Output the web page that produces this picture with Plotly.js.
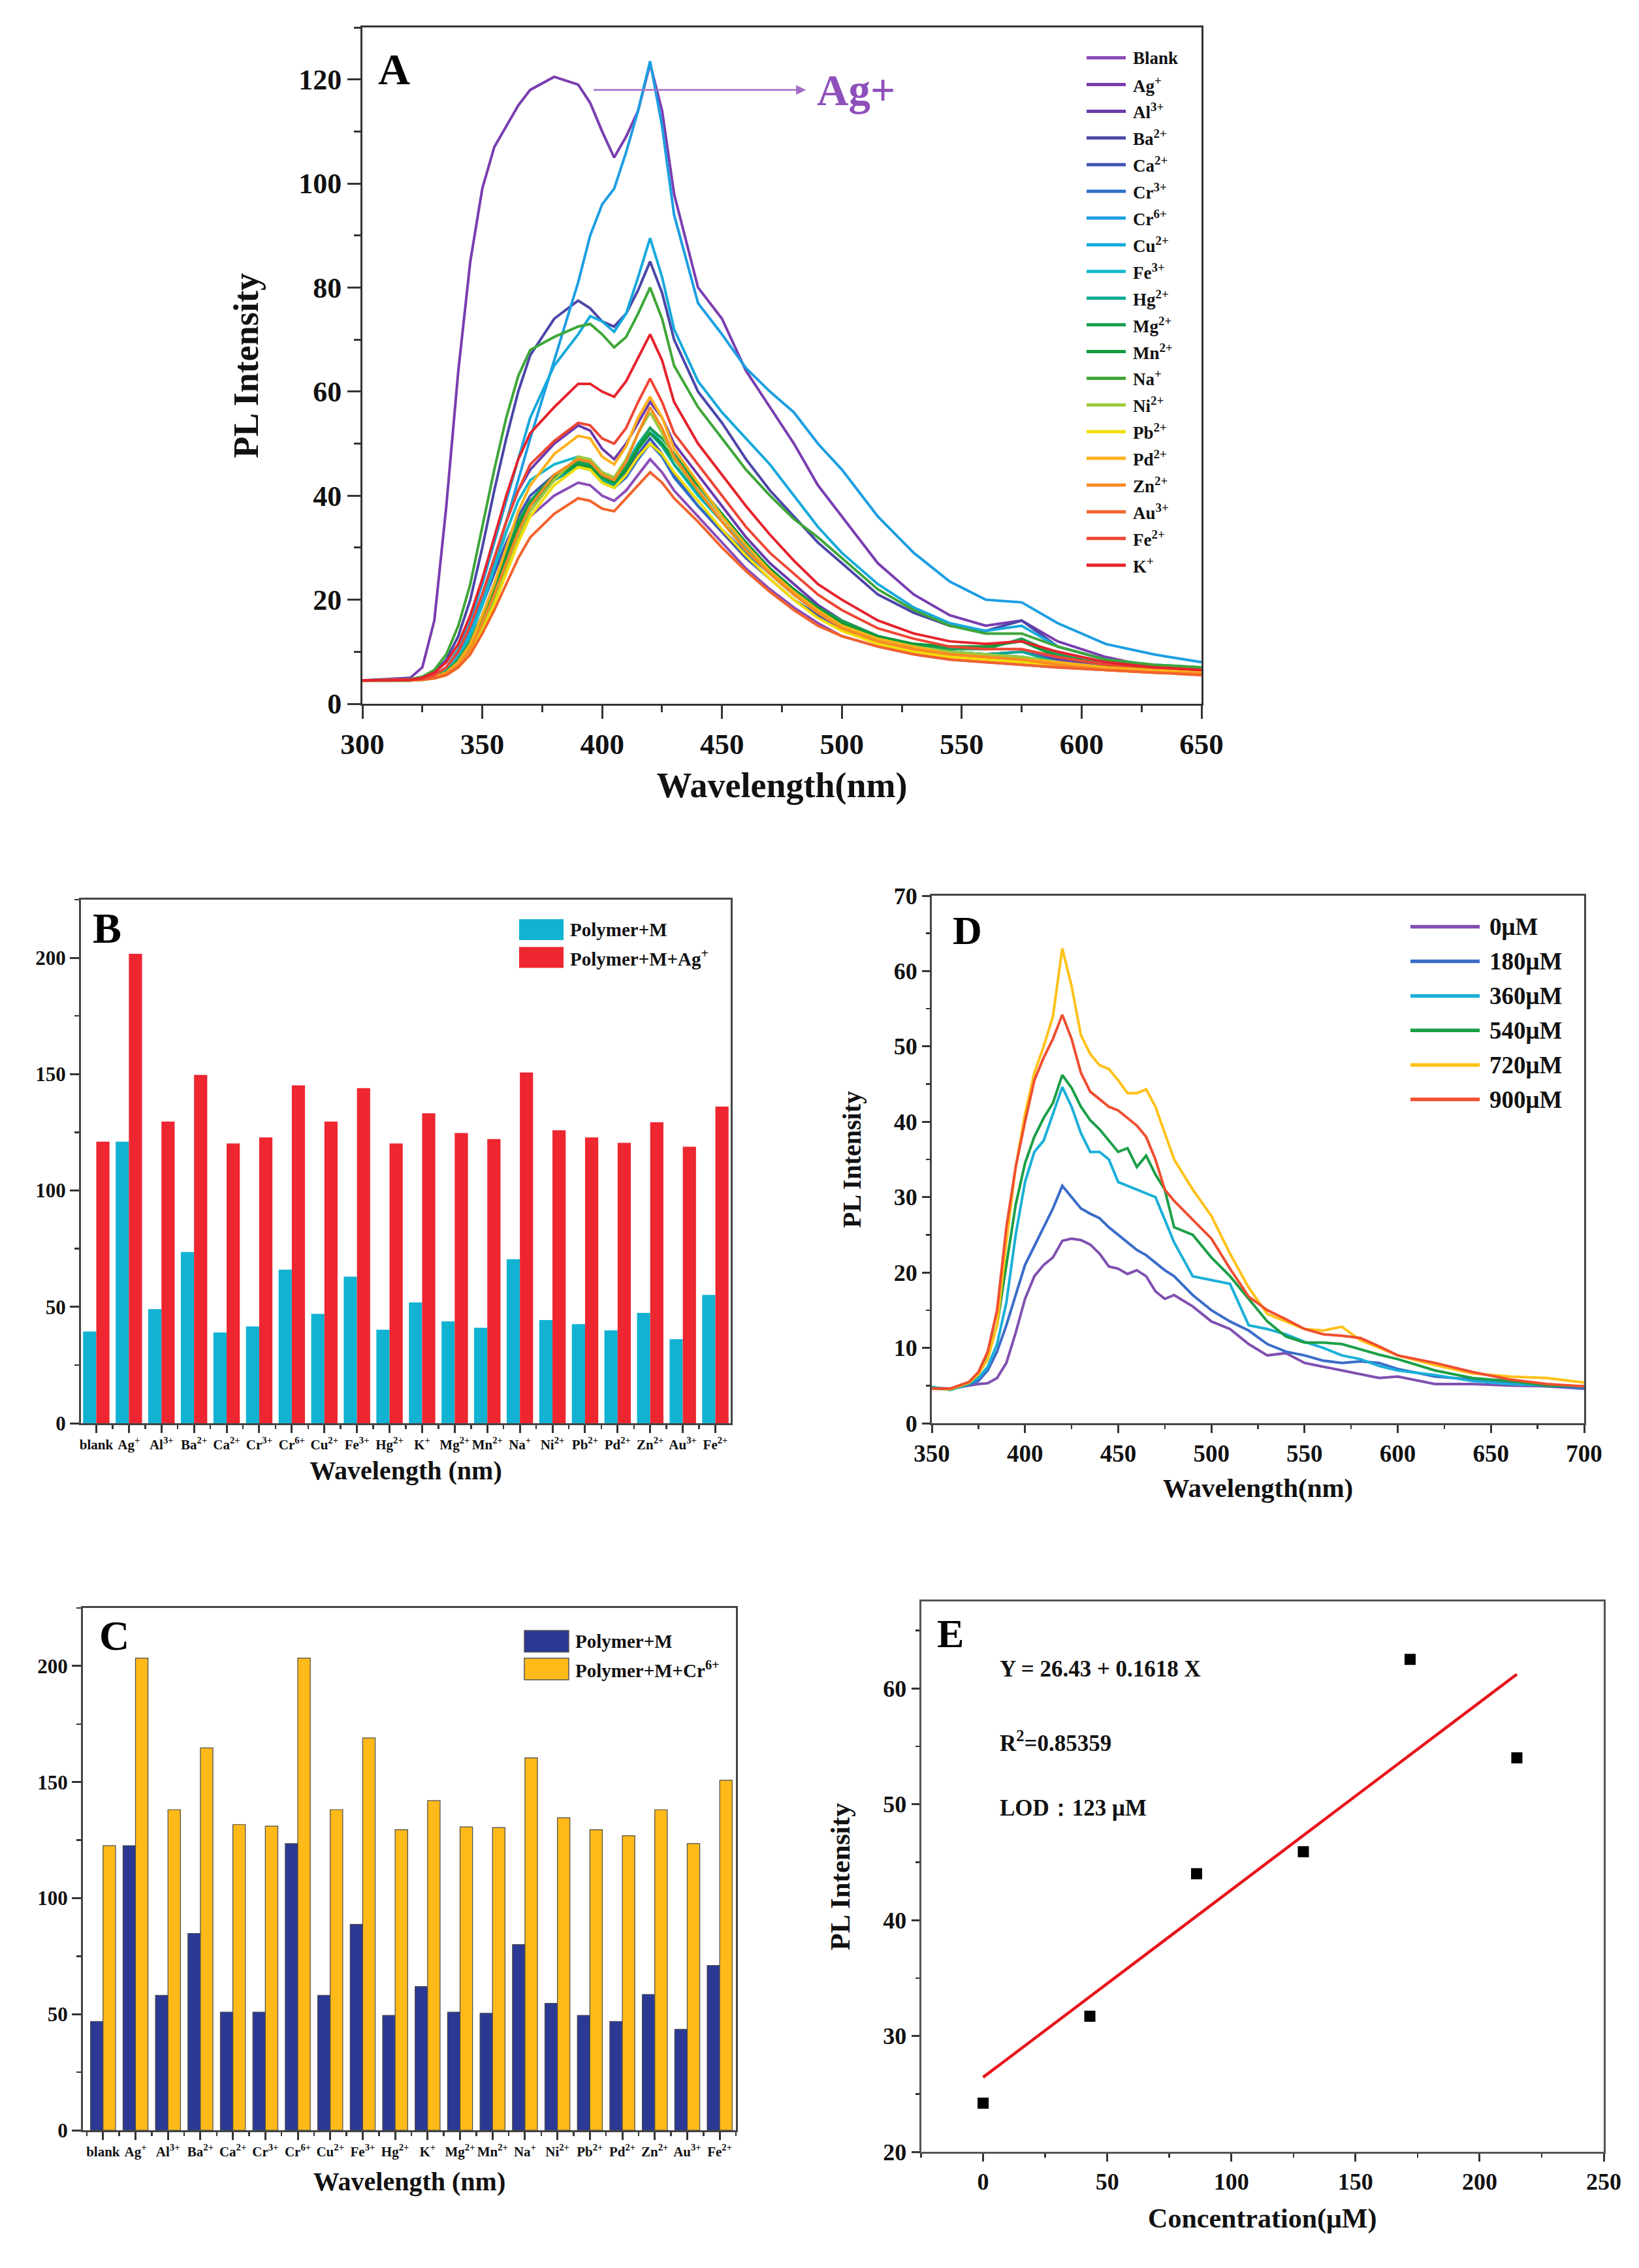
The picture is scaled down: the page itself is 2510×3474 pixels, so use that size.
<!DOCTYPE html>
<html><head><meta charset="utf-8">
<script src="https://cdn.plot.ly/plotly-3.0.1.min.js"></script>
<style>html,body{margin:0;padding:0;background:#fff}#chart{width:2510px;height:3474px}</style>
</head><body><div id="chart"></div>
<script>
// ---------------- Panel A : PL spectra with different metal ions ----------------
const wavelengthA = [300,320,325,330,335,340,345,350,355,360,365,370,380,390,395,400,405,410,415,420,425,430,440,450,460,470,480,490,500,515,530,545,560,575,590,610,630,650];
const a_blank = [4.5,4.6,4.8,5.2,6,8,11,16,21,27,32,36,40,42.5,42,40,39,41,44,47,44.5,41,36,31,26,22,18.5,15.5,13,11,9.5,8.5,8,7.5,7,6.5,6,5.8];
const a_ag    = [4.5,5,7,16,38,64,85,99,107,111,115,118,120.5,119,115.5,110,105,109,114,123,114,98,80,74,64,57,50,42,36,27,21,17,15,16,12,9,7,6];
const a_al    = [4.5,4.6,4.8,5.5,7,10,15,21,28,35,41,45,50,53.5,52.5,49,47,50,54,58,55,50,44,38,32,27,23,19,16,13,11,10,9.5,10,8.5,7,6.5,6];
const a_ba    = [4.5,4.7,5,6,8.5,13,20,30,41,51,60,67,74,77.5,76,73.5,72.5,75,79.5,85,79,70,60,54,47,41,36,31,27,21,17.5,15,14,16,11,8.5,7,6.5];
const a_ca    = [4.5,4.6,4.8,5.3,6.5,9,13,19,25,31,36,40,44,46,45.5,43,42,44.5,48,51,48,44,38,33,28,24,20,17,14.5,12,10.5,9.5,9,8.5,7.5,7,6.5,6];
const a_cr3   = [4.5,4.6,4.8,5.2,6.2,8.5,12,17,23,29,34,38,43,45.5,45,42.5,41.5,43.5,47,50,47.5,43.5,38,33.5,29,25,21,17.5,15,12.5,11,10,9.5,9,8,7,6.5,6];
const a_cr6   = [4.5,4.5,4.7,5.2,6.5,9.5,14,20,27,35,43,51,66,81,90,96,99,106,114,123.5,111,94,77,71,64.5,60,56,50,45,36,29,23.5,20,19.5,15.5,11.5,9.5,8];
const a_cu    = [4.5,4.5,4.7,5.3,7,10.5,16,23,31,39,47,55,65,71,74.5,73.5,71.5,75,82,89.5,82,72,62,56,51,46,40,34,29,23,18.5,15.5,14,15,11,8.5,7.5,7];
const a_fe3   = [4.5,4.5,4.7,5.2,6.5,9,13,19,26,33,39,43,46,47.5,47,44.5,43.5,46,50,53,50,46,40,35,30,25.5,21.5,18,15.5,13,11,10,9.5,9,8,7,6.5,6];
const a_hg    = [4.5,4.5,4.6,5,6,8,11,16,22,28,34,38,43,45.5,45,43,42,45,49,52,49.5,46,40.5,35,29.5,25,21,17.5,15,12.5,11,10,9.5,10,8,7,6.5,6];
const a_mg    = [4.5,4.5,4.7,5.2,6.2,8.5,12,17,23,29,35,39,44,46.5,46,44,43,45.5,49.5,53,51,48,42,36,30.5,26,22,18.5,16,13,11.5,10.5,10.5,12.5,9.5,7.5,7,6.5];
const a_mn    = [4.5,4.5,4.7,5.1,6,8,11.5,16.5,22.5,28.5,34,38.5,43.5,46,45.5,43.5,42.5,45,49,52,50,47,42,36.5,31,26,22,18.5,15.5,13,11.5,11,11,12,9,7.5,7,6.5];
const a_na    = [4.5,4.7,5.2,6.5,9.5,15,23,34,45,55,63,68,70.5,72.5,73,71,68.5,70.5,75,80,74,65,57,51,45,40,35.5,32,28,22,18,15,13.5,13.5,11,8.5,7.5,7];
const a_ni    = [4.5,4.5,4.6,4.9,5.6,7,10,14.5,20,26,32,37,43,47.5,47,44.5,43.5,47,52,56,52,47,41,35,29.5,25,21,17.5,15,12.5,11,10,9.5,9,8,7,6.5,6];
const a_pb    = [4.5,4.5,4.6,4.9,5.5,7,9.5,14,19,25,31,36,42,45.5,45,42.5,41.5,44,47.5,50,48,44.5,39,33.5,28.5,24,20,16.5,14,11.5,10,9,8.5,8,7.5,6.5,6,5.8];
const a_pd    = [4.5,4.5,4.7,5.1,6,8,11.5,17,23,30,37,42,48,51.5,51,47.5,46,49.5,55,59,55,49,42.5,36,30.5,25.5,21.5,18,15,12.5,11,9.5,9,8.5,8,7,6.5,6];
const a_zn    = [4.5,4.5,4.7,5,5.8,7.5,10.5,15.5,21,27,33,38,44,47,46.5,44,43,46.5,52,57,53,47.5,41,35,29.5,25,21,17.5,14.5,12,10.5,9.5,9,8.5,7.5,6.5,6,5.8];
const a_au    = [4.5,4.5,4.6,4.9,5.5,7,9.5,13.5,18,23,28,32,36.5,39.5,39,37.5,37,39.5,42,44.5,42.5,39.5,35,30,25.5,21.5,18,15,13,11,9.5,8.5,8,7.5,7,6.5,6,5.5];
const a_fe2   = [4.5,4.6,4.8,5.5,7,10,15,21,28,35,41,46,50.5,54,53.5,51,50,53,58,62.5,58,52,46,40,34,29,25,21,18,14.5,12.5,11,10.5,10.5,9,7.5,7,6.5];
const a_k     = [4.5,4.6,5,6,8,11.5,17,24,32,40,47,52,57,61.5,61.5,60,59,62,66.5,71,66,58,50,44,38,32.5,27.5,23,20,16,13.5,12,11.5,12,10,8,7,6.5];
const namesA  = ['Blank','Ag<sup>+</sup>','Al<sup>3+</sup>','Ba<sup>2+</sup>','Ca<sup>2+</sup>','Cr<sup>3+</sup>','Cr<sup>6+</sup>','Cu<sup>2+</sup>','Fe<sup>3+</sup>','Hg<sup>2+</sup>','Mg<sup>2+</sup>','Mn<sup>2+</sup>','Na<sup>+</sup>','Ni<sup>2+</sup>','Pb<sup>2+</sup>','Pd<sup>2+</sup>','Zn<sup>2+</sup>','Au<sup>3+</sup>','Fe<sup>2+</sup>','K<sup>+</sup>'];
const colorsA = ['#8B4DB8','#7A3DB0','#6A3AAE','#4B46A8','#3F55B5','#2F6FC9','#1C9EE2','#16A9DC','#10B8CC','#0BAA92','#1BA052','#0E9A3C','#3EA638','#A0C83C','#F2DE00','#FFB01A','#F98B22','#F3632C','#EE4634','#E6232D'];
const seriesA = [a_blank,a_ag,a_al,a_ba,a_ca,a_cr3,a_cr6,a_cu,a_fe3,a_hg,a_mg,a_mn,a_na,a_ni,a_pb,a_pd,a_zn,a_au,a_fe2,a_k];
const agArrow = {from: 396, to: 485, level: 118, labelX: 506};

// ---------------- Panels B and C : bar charts ----------------
const ionLabels = ['blank','Ag<sup>+</sup>','Al<sup>3+</sup>','Ba<sup>2+</sup>','Ca<sup>2+</sup>','Cr<sup>3+</sup>','Cr<sup>6+</sup>','Cu<sup>2+</sup>','Fe<sup>3+</sup>','Hg<sup>2+</sup>','K<sup>+</sup>','Mg<sup>2+</sup>','Mn<sup>2+</sup>','Na<sup>+</sup>','Ni<sup>2+</sup>','Pb<sup>2+</sup>','Pd<sup>2+</sup>','Zn<sup>2+</sup>','Au<sup>3+</sup>','Fe<sup>2+</sup>'];
const b_polymerM   = [39.4,121,49,73.6,39,41.6,66,47,63,40.2,51.9,43.8,41,70.5,44.3,42.6,39.9,47.4,36.1,55.1];
const b_polymerMAg = [121,201.7,129.6,149.7,120.2,122.8,145.2,129.6,144,120.2,133.2,124.7,122.1,150.7,125.9,122.8,120.5,129.3,118.8,136.1];
const c_polymerM   = [46.9,122.6,58.1,84.8,50.9,50.9,123.5,58.1,88.7,49.5,61.9,50.9,50.4,80,54.7,49.5,46.9,58.5,43.5,71];
const c_polymerMCr = [122.6,203.4,138.1,164.7,131.7,131,203.4,138.1,169,129.5,142,130.7,130.4,160.4,134.6,129.5,126.9,138.1,123.5,150.8];
const legendB = ['Polymer+M','Polymer+M+Ag<sup>+</sup>'];
const legendC = ['Polymer+M','Polymer+M+Cr<sup>6+</sup>'];
const colorsB = ['#12B2D2','#ED2630'];
const colorsC = ['#2B3995','#FFBA1A'];

// ---------------- Panel D : concentration series ----------------
const wavelengthD = [350,360,370,375,380,385,390,395,400,405,410,415,420,425,430,435,440,445,450,455,460,465,470,475,480,490,500,510,520,530,540,550,560,570,580,590,600,620,640,660,680,700];
const d_0   = [4.7,4.6,5.0,5.2,5.3,6,8,12,16.5,19.5,21,22,24.2,24.5,24.3,23.7,22.5,20.8,20.5,19.8,20.3,19.5,17.5,16.5,17,15.5,13.5,12.5,10.5,9,9.3,8,7.5,7,6.5,6,6.2,5.2,5.2,5,4.9,4.6];
const d_180 = [4.6,4.5,5.1,5.6,7,9.5,13,17,21,23.5,26,28.5,31.5,30,28.5,27.8,27.2,26,25,24,23,22.3,21.3,20.3,19.5,17,15,13.5,12.3,10.5,9.5,9,8.3,8,8.2,8,7.2,6.2,5.8,5.4,5,4.6];
const d_360 = [4.8,4.4,5.2,6,7.5,10.5,16,25,32,36,37.5,41,44.6,42,38.5,36,36,35,32,31.5,31,30.5,30,27,24,19.5,19,18.5,13,12.5,11.8,10.8,10,9,8.5,7.6,7,6.4,5.6,5.2,5,4.9];
const d_540 = [4.7,4.5,5.3,6.5,9,13,21,29,34.5,38,40.5,42.5,46.2,44.5,42,40.2,39,37.5,36,36.5,34,35.5,33,31,26,25,22,19.5,16.5,13.5,11.5,10.7,10.7,10.5,9.8,9.1,8.5,7,6,5.6,5,4.9];
const d_720 = [4.6,4.5,5.4,6.5,8.5,13,24,34,41,46.5,50,54,63,58,51.5,49,47.5,47,45.5,43.8,43.8,44.3,42,38.5,35,31,27.5,22.5,18,14.5,13.5,12.5,12.3,12.8,11,10,9,7.7,6.6,6.2,6,5.4];
const d_900 = [4.6,4.6,5.5,6.8,9.5,15,26,34,40,45.5,48.5,51,54.2,51,46.5,44,43,42,41.5,40.5,39.5,38,35,31,29.5,27,24.5,20.5,16.8,15,13.8,12.5,11.8,11.6,11.3,10.2,9,8,6.8,5.8,5.2,4.9];
const namesD  = ['0μM','180μM','360μM','540μM','720μM','900μM'];
const colorsD = ['#8050B0','#3A6CC8','#1AAFD8','#1A9F46','#FFC21A','#F04E30'];
const seriesD = [d_0,d_180,d_360,d_540,d_720,d_900];

// ---------------- Panel E : linear fit ----------------
const e_conc = [0,43,86,129,172,215];
const e_pl   = [24.2,31.7,44.0,45.9,62.5,54.0];
const e_fitIntercept = 26.43;
const e_fitSlope = 0.1618;
const e_fitX = [0,215];
const e_texts = ['Y = 26.43 + 0.1618 X','R<sup>2</sup>=0.85359','LOD：123 μM'];

// ---------------- layout helpers ----------------
const W = 2510, H = 3474;
const SERIF = '"Liberation Serif","Times New Roman",serif';
const fnt = (size, color) => ({family: SERIF, size: size, weight: 'bold', color: color || '#111'});
const px = v => v / W;
const py = v => 1 - v / H;
function ax(o){
  return Object.assign({showline:true, mirror:true, linecolor:'#333', linewidth:3,
    ticks:'outside', tickcolor:'#333', tickwidth:3, showgrid:false, zeroline:false, fixedrange:true}, o);
}

const traces = [];
seriesA.forEach((s,i) => traces.push({type:'scatter', mode:'lines', x:wavelengthA, y:s, name:namesA[i],
  line:{color:colorsA[i], width:4}, xaxis:'x', yaxis:'y'}));
const catIdx = ionLabels.map((_,i)=>i);
[[b_polymerM,0,-0.405],[b_polymerMAg,1,0]].forEach(([v,k,off]) => traces.push({type:'bar', x:catIdx, y:v, name:legendB[k],
  marker:{color:colorsB[k], line:{width:0}}, width:0.405, offset:off, xaxis:'x2', yaxis:'y2'}));
[[c_polymerM,0,-0.385],[c_polymerMCr,1,0]].forEach(([v,k,off]) => traces.push({type:'bar', x:catIdx, y:v, name:legendC[k],
  marker:{color:colorsC[k], line:{width:1.2, color:'#4a4a4a'}}, width:0.385, offset:off, xaxis:'x3', yaxis:'y3'}));
seriesD.forEach((s,i) => traces.push({type:'scatter', mode:'lines', x:wavelengthD, y:s, name:namesD[i],
  line:{color:colorsD[i], width:4}, xaxis:'x4', yaxis:'y4'}));
traces.push({type:'scatter', mode:'lines', x:e_fitX, y:e_fitX.map(v=>e_fitIntercept+e_fitSlope*v), name:'Linear fit',
  line:{color:'#E8141B', width:4.5}, xaxis:'x5', yaxis:'y5'});
traces.push({type:'scatter', mode:'markers', x:e_conc, y:e_pl, name:'PL Intensity',
  marker:{symbol:'square', size:17, color:'#000'}, xaxis:'x5', yaxis:'y5'});

const shapes = [], annotations = [];
// panel letters
[['A',603,106,68],['B',164,1421,66],['C',175,2505,64],['D',1481,1425,62],['E',1455,2502,62]].forEach(([t,x,y,s]) =>
  annotations.push({text:t, x:px(x), y:py(y), xref:'paper', yref:'paper', showarrow:false, xanchor:'center', yanchor:'middle', font:fnt(s,'#000')}));
// legend A
namesA.forEach((n,i) => {
  const y = 88.6 + 40.9*i;
  shapes.push({type:'line', xref:'paper', yref:'paper', x0:px(1664), x1:px(1724), y0:py(y), y1:py(y), line:{color:colorsA[i], width:5}});
  annotations.push({text:n, x:px(1733), y:py(y), xref:'paper', yref:'paper', showarrow:false, xanchor:'left', yanchor:'middle', font:fnt(27)});
});
// Ag+ arrow
annotations.push({text:'', x:agArrow.to, y:agArrow.level, ax:agArrow.from, ay:agArrow.level, xref:'x', yref:'y', axref:'x', ayref:'y',
  showarrow:true, arrowhead:2, arrowsize:1.2, arrowwidth:2.5, arrowcolor:'#A36BC9'});
annotations.push({text:'Ag+', x:agArrow.labelX, y:agArrow.level, xref:'x', yref:'y', showarrow:false, xanchor:'center', yanchor:'middle', font:fnt(67,'#8E4FBB')});
// legend B & C
function barLegend(names, colors, x0, x1, ys, h, tx, border){
  names.forEach((n,i) => {
    shapes.push({type:'rect', xref:'paper', yref:'paper', x0:px(x0), x1:px(x1), y0:py(ys[i]+h/2), y1:py(ys[i]-h/2),
      fillcolor:colors[i], line:{width:border?1.5:0, color:'#555'}});
    annotations.push({text:n, x:px(tx), y:py(ys[i]), xref:'paper', yref:'paper', showarrow:false, xanchor:'left', yanchor:'middle', font:fnt(29)});
  });
}
barLegend(legendB, colorsB, 795, 863, [1424, 1466.5], 32, 871, false);
barLegend(legendC, colorsC, 803, 871, [2514, 2556.5], 33, 879, true);
// legend D
namesD.forEach((n,i) => {
  const y = 1419.6 + 52.9*i;
  shapes.push({type:'line', xref:'paper', yref:'paper', x0:px(2160), x1:px(2266), y0:py(y), y1:py(y), line:{color:colorsD[i], width:5.5}});
  annotations.push({text:n, x:px(2279), y:py(y), xref:'paper', yref:'paper', showarrow:false, xanchor:'left', yanchor:'middle', font:fnt(37)});
});
// E texts
[2556, 2667, 2769].forEach((y,i) =>
  annotations.push({text:e_texts[i], x:px(1529), y:py(y), xref:'paper', yref:'paper', showarrow:false, xanchor:'left', yanchor:'middle', font:fnt(35)}));

const layout = {
  width:W, height:H, margin:{l:0,r:0,t:0,b:0}, paper_bgcolor:'#fff', plot_bgcolor:'#fff',
  showlegend:false, barmode:'overlay', font:fnt(30),
  xaxis: ax({domain:[px(555),px(1840)], range:[300,650], dtick:50, ticklen:20, anchor:'y',
    minor:{dtick:25, ticklen:10, tickwidth:3, tickcolor:'#333', ticks:'outside'},
    tickfont:fnt(45), title:{text:'Wavelength(nm)', font:fnt(54), standoff:20}}),
  yaxis: ax({domain:[py(1078),py(42)], range:[0,130], dtick:20, ticklen:20, anchor:'x',
    minor:{dtick:10, ticklen:10, tickwidth:3, tickcolor:'#333', ticks:'outside'},
    tickfont:fnt(44), title:{text:'PL Intensity', font:fnt(54), standoff:45}}),
  xaxis2: ax({domain:[px(124),px(1119)], range:[-0.47,19.47], tickmode:'array', tickvals:catIdx, ticktext:ionLabels, ticklen:12, anchor:'y2',
    minor:{tick0:0.5, dtick:1, ticklen:6, tickwidth:2.5, tickcolor:'#333', ticks:'outside'}, linecolor:'#444',
    tickfont:fnt(21), title:{text:'Wavelength (nm)', font:fnt(40), standoff:14}}),
  yaxis2: ax({domain:[py(2180),py(1378)], range:[0,225], dtick:50, ticklen:14, anchor:'x2', linecolor:'#444',
    minor:{dtick:25, ticklen:7, tickwidth:2.5, tickcolor:'#333', ticks:'outside'}, tickfont:fnt(31)}),
  xaxis3: ax({domain:[px(127),px(1127)], range:[-0.62,19.5], tickmode:'array', tickvals:catIdx, ticktext:ionLabels, ticklen:12, anchor:'y3',
    minor:{tick0:0.5, dtick:1, ticklen:6, tickwidth:2.5, tickcolor:'#333', ticks:'outside'}, linecolor:'#444',
    tickfont:fnt(21), title:{text:'Wavelength (nm)', font:fnt(40), standoff:20}}),
  yaxis3: ax({domain:[py(3263),py(2463)], range:[0,225], dtick:50, ticklen:14, anchor:'x3', linecolor:'#444',
    minor:{dtick:25, ticklen:7, tickwidth:2.5, tickcolor:'#333', ticks:'outside'}, tickfont:fnt(31)}),
  xaxis4: ax({domain:[px(1427),px(2426)], range:[350,700], dtick:50, ticklen:12, anchor:'y4', linecolor:'#444',
    minor:{dtick:25, ticklen:6, tickwidth:2.5, tickcolor:'#333', ticks:'outside'},
    tickfont:fnt(37), title:{text:'Wavelength(nm)', font:fnt(41), standoff:18}}),
  yaxis4: ax({domain:[py(2180),py(1372)], range:[0,70], dtick:10, ticklen:12, anchor:'x4', linecolor:'#444',
    minor:{dtick:5, ticklen:6, tickwidth:2.5, tickcolor:'#333', ticks:'outside'},
    tickfont:fnt(36), title:{text:'PL Intensity', font:fnt(40), standoff:38}}),
  xaxis5: ax({domain:[px(1410.5),px(2456)], range:[-25,250], dtick:50, ticklen:12, anchor:'y5', linecolor:'#555',
    minor:{dtick:25, ticklen:6, tickwidth:2.5, tickcolor:'#333', ticks:'outside'},
    tickfont:fnt(36), title:{text:'Concentration(μM)', font:fnt(42), standoff:22}}),
  yaxis5: ax({domain:[py(3296),py(2453)], range:[20,67.5], dtick:10, ticklen:12, anchor:'x5', linecolor:'#555',
    minor:{dtick:5, ticklen:6, tickwidth:2.5, tickcolor:'#333', ticks:'outside'},
    tickfont:fnt(36), title:{text:'PL Intensity', font:fnt(43), standoff:38}}),
  shapes: shapes, annotations: annotations
};
Plotly.newPlot('chart', traces, layout, {staticPlot:true, displayModeBar:false});
</script></body></html>
